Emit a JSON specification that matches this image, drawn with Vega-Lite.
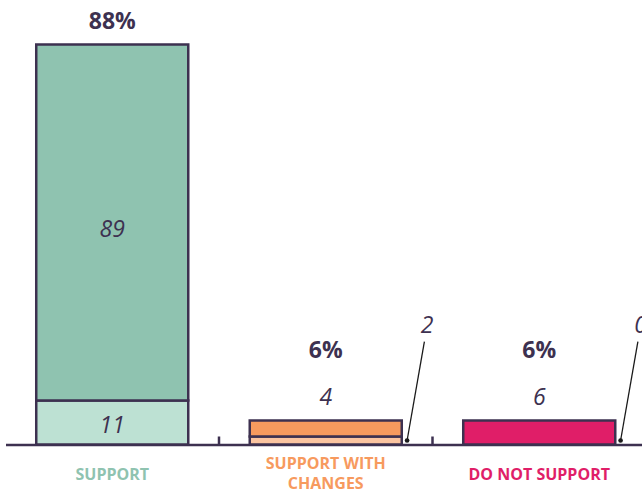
{
  "$schema": "https://vega.github.io/schema/vega-lite/v6.json",
  "autosize": "none",
  "width": 636.5,
  "height": 400,
  "padding": {"left": 5.5, "top": 44.5, "right": 0, "bottom": 45.5},
  "background": "#ffffff",
  "config": {"view": {"stroke": null}, "font": "Open Sans"},
  "datasets": {
    "segs": [
      {"cat": "SUPPORT", "part": "base", "key": "SUPPORT|base", "lo": 0, "hi": 11, "n": 11},
      {"cat": "SUPPORT", "part": "top", "key": "SUPPORT|top", "lo": 11, "hi": 100, "n": 89},
      {"cat": "SUPPORT WITH CHANGES", "part": "base", "key": "SUPPORT WITH CHANGES|base", "lo": 0, "hi": 2, "n": 2},
      {"cat": "SUPPORT WITH CHANGES", "part": "top", "key": "SUPPORT WITH CHANGES|top", "lo": 2, "hi": 6, "n": 4},
      {"cat": "DO NOT SUPPORT", "part": "base", "key": "DO NOT SUPPORT|base", "lo": 0, "hi": 0, "n": 0},
      {"cat": "DO NOT SUPPORT", "part": "top", "key": "DO NOT SUPPORT|top", "lo": 0, "hi": 6, "n": 6}
    ],
    "totals": [
      {"cat": "SUPPORT", "total": 100, "pct": "88%"},
      {"cat": "SUPPORT WITH CHANGES", "total": 6, "pct": "6%"},
      {"cat": "DO NOT SUPPORT", "total": 6, "pct": "6%"}
    ]
  },
  "encoding": {
    "x": {
      "field": "cat",
      "type": "nominal",
      "sort": ["SUPPORT", "SUPPORT WITH CHANGES", "DO NOT SUPPORT"],
      "scale": {"paddingInner": 0, "paddingOuter": 0, "range": [0, 640.5]},
      "axis": {
        "title": null,
        "ticks": false,
        "domainColor": "#3d3150",
        "domainWidth": 2.5,
        "labelAngle": 0,
        "labelFont": "Open Sans",
        "labelFontWeight": "bold",
        "labelFontSize": 16,
        "labelPadding": {"condition": {"test": "datum.value == 'SUPPORT WITH CHANGES'", "value": 19}, "value": 30},
        "labelBaseline": "middle",
        "labelLineHeight": 20,
        "labelExpr": "datum.value == 'SUPPORT WITH CHANGES' ? ['SUPPORT WITH', 'CHANGES'] : datum.value",
        "labelColor": {
          "condition": [
            {"test": "datum.value == 'SUPPORT'", "value": "#8fc3b0"},
            {"test": "datum.value == 'SUPPORT WITH CHANGES'", "value": "#f79a5e"}
          ],
          "value": "#e01e68"
        }
      }
    }
  },
  "layer": [
    {
      "data": {"name": "segs"},
      "mark": {"type": "bar", "width": {"band": 0.712}, "stroke": "#3d3150", "strokeWidth": 2.5},
      "encoding": {
        "y": {"field": "lo", "type": "quantitative", "scale": {"domain": [0, 100], "nice": false}, "axis": null},
        "y2": {"field": "hi"},
        "color": {
          "field": "key",
          "type": "nominal",
          "legend": null,
          "scale": {
            "domain": ["SUPPORT|base", "SUPPORT|top", "SUPPORT WITH CHANGES|base", "SUPPORT WITH CHANGES|top", "DO NOT SUPPORT|base", "DO NOT SUPPORT|top"],
            "range": ["#bde1d3", "#8fc3b0", "#fbc4a0", "#f79a5e", "#e01e68", "#e01e68"]
          }
        }
      }
    },
    {
      "data": {"name": "segs"},
      "transform": [{"filter": "datum.cat != 'SUPPORT'"}, {"filter": "datum.part == 'base'"}],
      "mark": {"type": "rule", "color": "#3d3150", "strokeWidth": 2.5},
      "encoding": {
        "x": {"field": "cat", "type": "nominal", "sort": ["SUPPORT", "SUPPORT WITH CHANGES", "DO NOT SUPPORT"], "bandPosition": 0},
        "y": {"datum": 0, "type": "quantitative"},
        "y2": {"datum": 2}
      }
    },
    {
      "data": {"name": "segs"},
      "transform": [{"filter": "datum.cat == 'SUPPORT'"}, {"filter": "datum.part == 'top'"}, {"calculate": "(datum.lo + datum.hi) / 2", "as": "mid"}],
      "mark": {"type": "text", "font": "Open Sans", "fontStyle": "italic", "fontSize": 23, "color": "#3d3150", "baseline": "middle", "dy": 7},
      "encoding": {
        "y": {"field": "mid", "type": "quantitative"},
        "text": {"field": "n"}
      }
    },
    {
      "data": {"name": "segs"},
      "transform": [{"filter": "datum.cat == 'SUPPORT'"}, {"filter": "datum.part == 'base'"}, {"calculate": "(datum.lo + datum.hi) / 2", "as": "mid"}],
      "mark": {"type": "text", "font": "Open Sans", "fontStyle": "italic", "fontSize": 23, "color": "#3d3150", "baseline": "middle", "dy": 3},
      "encoding": {
        "y": {"field": "mid", "type": "quantitative"},
        "text": {"field": "n"}
      }
    },
    {
      "data": {"name": "segs"},
      "transform": [{"filter": "datum.cat != 'SUPPORT'"}, {"filter": "datum.part == 'top'"}],
      "mark": {"type": "text", "font": "Open Sans", "fontStyle": "italic", "fontSize": 23, "color": "#3d3150", "baseline": "middle", "dy": -23},
      "encoding": {
        "y": {"field": "hi", "type": "quantitative"},
        "text": {"field": "n"}
      }
    },
    {
      "data": {"name": "segs"},
      "transform": [{"filter": "datum.cat != 'SUPPORT'"}, {"filter": "datum.part == 'base'"}],
      "mark": {"type": "rule", "color": "#1a1a1a", "strokeWidth": 1.3},
      "encoding": {
        "x": {"field": "cat", "type": "nominal", "sort": ["SUPPORT", "SUPPORT WITH CHANGES", "DO NOT SUPPORT"], "bandPosition": 0.881},
        "x2": {"field": "cat", "bandPosition": 0.962},
        "y": {"datum": 1, "type": "quantitative"},
        "y2": {"datum": 25.7}
      }
    },
    {
      "data": {"name": "segs"},
      "transform": [{"filter": "datum.cat != 'SUPPORT'"}, {"filter": "datum.part == 'base'"}],
      "mark": {"type": "point", "filled": true, "size": 22, "color": "#1a1a1a", "opacity": 1},
      "encoding": {
        "x": {"field": "cat", "type": "nominal", "sort": ["SUPPORT", "SUPPORT WITH CHANGES", "DO NOT SUPPORT"], "bandPosition": 0.881},
        "y": {"datum": 1, "type": "quantitative"}
      }
    },
    {
      "data": {"name": "segs"},
      "transform": [{"filter": "datum.cat != 'SUPPORT'"}, {"filter": "datum.part == 'base'"}],
      "mark": {"type": "text", "font": "Open Sans", "fontStyle": "italic", "fontSize": 23, "color": "#3d3150", "baseline": "middle"},
      "encoding": {
        "x": {"field": "cat", "type": "nominal", "sort": ["SUPPORT", "SUPPORT WITH CHANGES", "DO NOT SUPPORT"], "bandPosition": 0.975},
        "y": {"datum": 29.6, "type": "quantitative"},
        "text": {"field": "n"}
      }
    },
    {
      "data": {"name": "totals"},
      "transform": [{"filter": "datum.cat == 'SUPPORT'"}],
      "mark": {"type": "text", "font": "Open Sans", "fontWeight": "bold", "fontSize": 23, "color": "#3d3150", "baseline": "middle", "dy": -23},
      "encoding": {
        "y": {"field": "total", "type": "quantitative"},
        "text": {"field": "pct"}
      }
    },
    {
      "data": {"name": "totals"},
      "transform": [{"filter": "datum.cat != 'SUPPORT'"}],
      "mark": {"type": "text", "font": "Open Sans", "fontWeight": "bold", "fontSize": 23, "color": "#3d3150", "baseline": "middle", "dy": -70},
      "encoding": {
        "y": {"field": "total", "type": "quantitative"},
        "text": {"field": "pct"}
      }
    }
  ]
}
